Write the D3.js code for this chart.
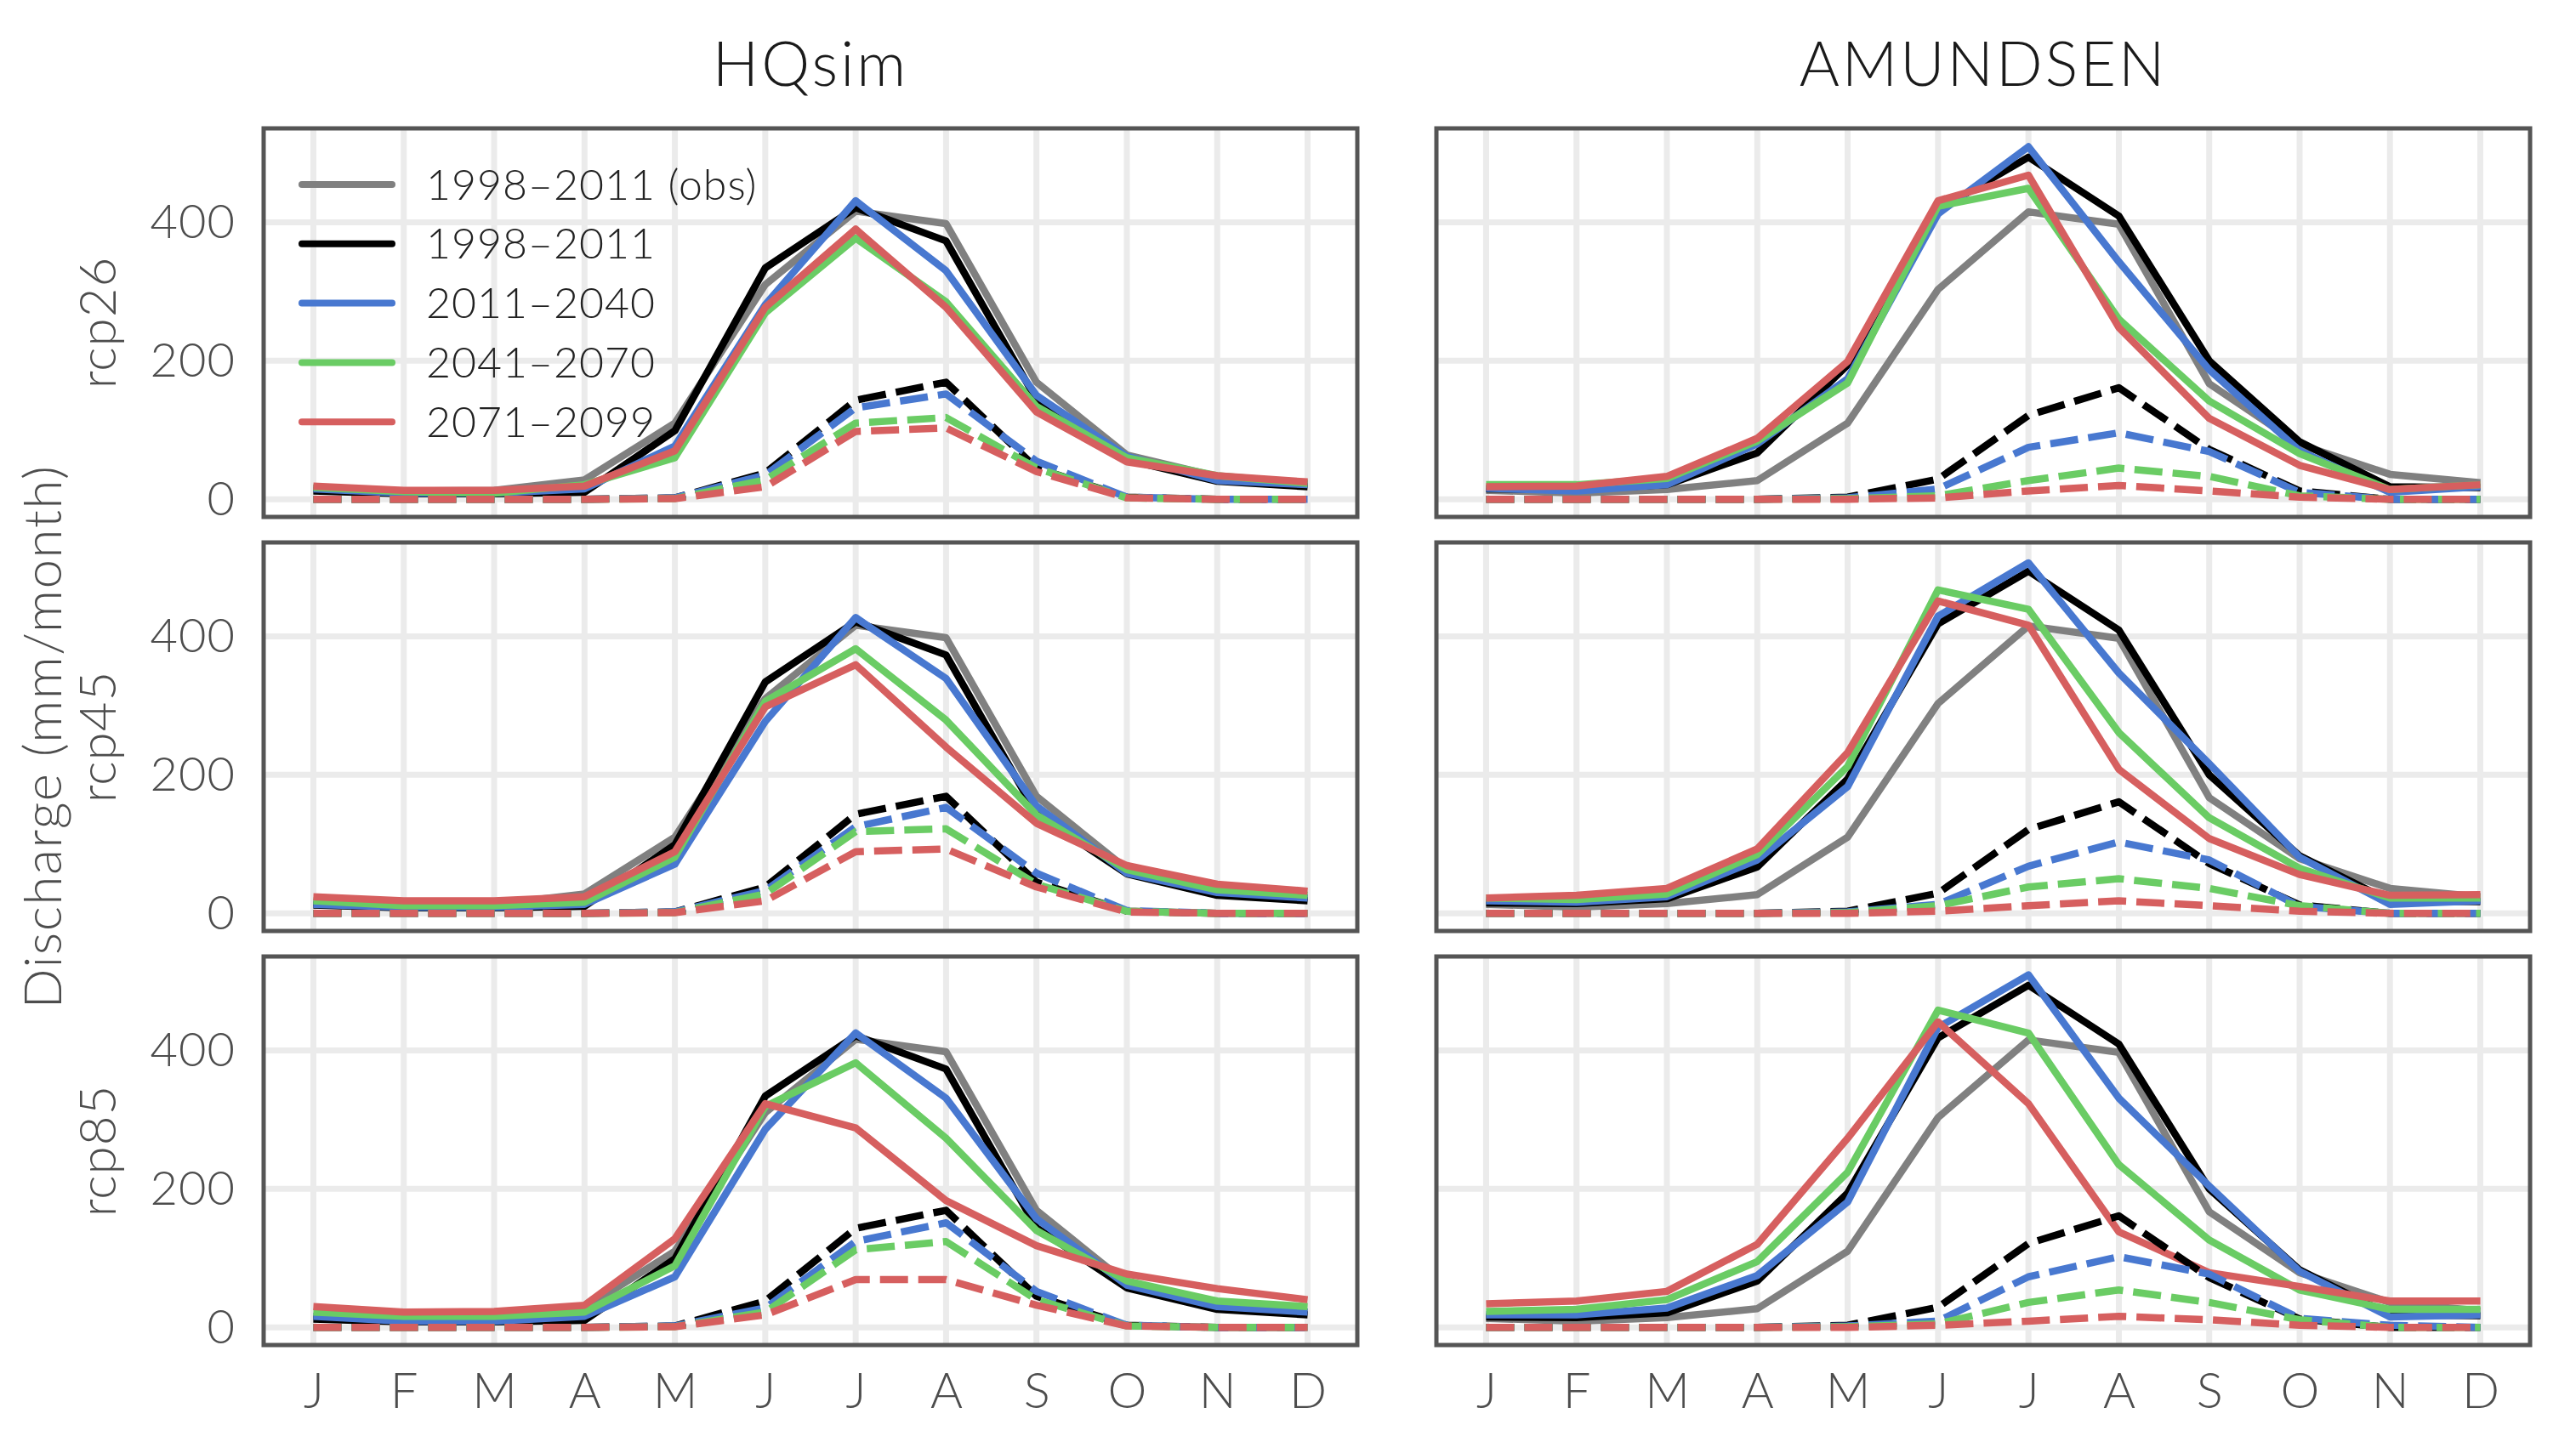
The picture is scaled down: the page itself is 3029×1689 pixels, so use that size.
<!DOCTYPE html>
<html>
<head>
<meta charset="utf-8">
<script src="https://cdn.jsdelivr.net/npm/d3@7"></script>
<style>
  body { margin: 0; background: #fff; }
  text { font-family: Lato, "Open Sans", sans-serif; font-weight: 300; }
</style>
</head>
<body>
<div class="chart"></div>
<script>
const W = 3029;
const H = 1689;

const months = ['J', 'F', 'M', 'A', 'M', 'J', 'J', 'A', 'S', 'O', 'N', 'D'];
const periods = ['1998–2011 (obs)', '1998–2011', '2011–2040', '2041–2070', '2071–2099'];
const periodColors = ['#808080', '#000000', '#4878d0', '#6acc64', '#d65f5f'];
const models = ['HQsim', 'AMUNDSEN'];
const scenarios = ['rcp26', 'rcp45', 'rcp85'];
const yTicks = [0, 200, 400];

// reference period (same in every scenario row)
const hqObs = [16, 12, 13, 28, 110, 310, 416, 398, 169, 64, 33, 22];
const hqRef = [12, 8, 8, 10, 99, 334, 421, 373, 144, 57, 26, 18];
const hqRefIce = [0, 0, 0, 0, 2, 38, 143, 169, 45, 3, 0, 0];
const amObs = [13, 9, 14, 27, 110, 303, 415, 397, 167, 79, 36, 24];
const amRef = [15, 14, 21, 67, 194, 418, 494, 409, 200, 83, 18, 17];
const amRefIce = [0, 0, 0, 0, 3, 29, 121, 161, 72, 12, 0, 0];

// HQsim future periods: 2011-2040, 2041-2070, 2071-2099
const hq26 = [
  [15, 9, 9, 15, 77, 281, 431, 330, 150, 62, 27, 21],
  [17, 11, 9, 21, 60, 269, 377, 285, 134, 60, 34, 23],
  [19, 13, 13, 19, 70, 277, 390, 277, 126, 54, 34, 25]
];
const hq26Ice = [
  [0, 0, 0, 0, 2, 35, 132, 152, 55, 3, 0, 0],
  [0, 0, 0, 0, 1, 28, 110, 118, 45, 2, 0, 0],
  [0, 0, 0, 0, 1, 18, 98, 103, 40, 2, 0, 0]
];
const hq45 = [
  [13, 9, 9, 13, 71, 277, 427, 339, 155, 58, 30, 22],
  [18, 11, 11, 16, 81, 306, 382, 279, 142, 63, 34, 26],
  [24, 18, 18, 24, 89, 298, 359, 240, 130, 69, 42, 32]
];
const hq45Ice = [
  [0, 0, 0, 0, 2, 33, 125, 153, 58, 4, 0, 0],
  [0, 0, 0, 0, 1, 28, 118, 122, 42, 3, 0, 0],
  [0, 0, 0, 0, 1, 18, 89, 93, 38, 2, 0, 0]
];
const hq85 = [
  [16, 9, 9, 16, 73, 286, 425, 331, 157, 61, 30, 22],
  [22, 16, 16, 22, 89, 319, 382, 273, 140, 67, 38, 30],
  [30, 22, 23, 32, 128, 323, 288, 183, 118, 77, 56, 40]
];
const hq85Ice = [
  [0, 0, 0, 0, 2, 28, 124, 151, 52, 3, 0, 0],
  [0, 0, 0, 0, 1, 22, 112, 124, 40, 2, 0, 0],
  [0, 0, 0, 0, 1, 18, 69, 69, 32, 2, 0, 0]
];

// AMUNDSEN future periods
const am26 = [
  [16, 12, 21, 80, 174, 412, 509, 343, 187, 70, 10, 18],
  [21, 21, 30, 84, 168, 423, 449, 260, 142, 66, 14, 21],
  [18, 19, 33, 88, 199, 431, 468, 248, 117, 49, 14, 21]
];
const am26Ice = [
  [0, 0, 0, 0, 2, 15, 75, 96, 69, 10, 0, 0],
  [0, 0, 0, 0, 1, 5, 27, 45, 33, 5, 0, 0],
  [0, 0, 0, 0, 0, 2, 12, 20, 12, 3, 0, 0]
];
const am45 = [
  [18, 16, 24, 77, 183, 429, 506, 347, 216, 81, 13, 18],
  [22, 20, 28, 85, 212, 467, 439, 261, 138, 65, 22, 22],
  [22, 26, 36, 93, 232, 451, 416, 208, 108, 56, 26, 27]
];
const am45Ice = [
  [0, 0, 0, 0, 2, 13, 68, 103, 77, 10, 0, 0],
  [0, 0, 0, 0, 1, 11, 38, 50, 36, 11, 0, 0],
  [0, 0, 0, 0, 0, 3, 11, 18, 11, 3, 0, 0]
];
const am85 = [
  [18, 18, 28, 75, 181, 433, 509, 331, 204, 81, 15, 18],
  [23, 26, 40, 95, 224, 458, 425, 235, 126, 54, 26, 26],
  [34, 38, 52, 120, 273, 441, 323, 138, 79, 59, 38, 38]
];
const am85Ice = [
  [0, 0, 0, 0, 2, 9, 73, 102, 77, 13, 3, 0],
  [0, 0, 0, 0, 1, 5, 36, 54, 36, 11, 0, 0],
  [0, 0, 0, 0, 0, 3, 9, 16, 11, 3, 0, 0]
];

// panel table: [row][col]
const panels = [
  [{ obs: hqObs, ref: hqRef, refIce: hqRefIce, fut: hq26, futIce: hq26Ice },
   { obs: amObs, ref: amRef, refIce: amRefIce, fut: am26, futIce: am26Ice }],
  [{ obs: hqObs, ref: hqRef, refIce: hqRefIce, fut: hq45, futIce: hq45Ice },
   { obs: amObs, ref: amRef, refIce: amRefIce, fut: am45, futIce: am45Ice }],
  [{ obs: hqObs, ref: hqRef, refIce: hqRefIce, fut: hq85, futIce: hq85Ice },
   { obs: amObs, ref: amRef, refIce: amRefIce, fut: am85, futIce: am85Ice }]
];

// layout
const panelW = 1286;
const panelH = 457;
const colX = [310, 1689];
const rowY = [151, 638, 1125];
const lineW = 8.5;

const svg = d3
  .select('.chart')
  .append('svg')
  .attr('width', W)
  .attr('height', H);

// scales (ggplot style 5% expansion)
const xScale = d3.scaleLinear().domain([-0.55, 11.55]).range([0, panelW]);
const yScale = d3.scaleLinear().domain([-25.5, 535.5]).range([panelH, 0]);

const line = d3
  .line()
  .x((d, i) => xScale(i))
  .y((d) => yScale(d));

// strip titles
models.forEach((m, c) => {
  svg
    .append('text')
    .attr('x', colX[c] + panelW / 2)
    .attr('y', 101)
    .attr('text-anchor', 'middle')
    .attr('font-size', 72)
    .attr('letter-spacing', 3)
    .attr('fill', '#1a1a1a')
    .text(m);
});

// y title
svg
  .append('text')
  .attr('transform', `translate(72, ${(rowY[0] + rowY[2] + panelH) / 2}) rotate(-90)`)
  .attr('text-anchor', 'middle')
  .attr('font-size', 62)
  .attr('letter-spacing', 1.5)
  .attr('fill', '#4d4d4d')
  .text('Discharge (mm/month)');

scenarios.forEach((s, r) => {
  // row label
  svg
    .append('text')
    .attr('transform', `translate(136, ${rowY[r] + panelH / 2}) rotate(-90)`)
    .attr('text-anchor', 'middle')
    .attr('font-size', 60)
    .attr('letter-spacing', 1)
    .attr('fill', '#4d4d4d')
    .text(s);

  models.forEach((m, c) => {
    const p = panels[r][c];
    const g = svg
      .append('g')
      .attr('transform', `translate(${colX[c]}, ${rowY[r]})`);

    // grid
    g.selectAll('.vgrid')
      .data(d3.range(12))
      .enter()
      .append('line')
      .attr('x1', (d) => xScale(d))
      .attr('x2', (d) => xScale(d))
      .attr('y1', 0)
      .attr('y2', panelH)
      .attr('stroke', '#ebebeb')
      .attr('stroke-width', 7);
    g.selectAll('.hgrid')
      .data(yTicks)
      .enter()
      .append('line')
      .attr('x1', 0)
      .attr('x2', panelW)
      .attr('y1', (d) => yScale(d))
      .attr('y2', (d) => yScale(d))
      .attr('stroke', '#ebebeb')
      .attr('stroke-width', 7);

    // solid lines: total discharge
    const solid = [p.obs, p.ref].concat(p.fut);
    g.selectAll('.solid')
      .data(solid)
      .enter()
      .append('path')
      .attr('d', (d) => line(d))
      .attr('fill', 'none')
      .attr('stroke', (d, i) => periodColors[i])
      .attr('stroke-width', lineW)
      .attr('stroke-linejoin', 'round');

    // dashed lines
    const dashed = [p.refIce].concat(p.futIce);
    g.selectAll('.dashed')
      .data(dashed)
      .enter()
      .append('path')
      .attr('d', (d) => line(d))
      .attr('fill', 'none')
      .attr('stroke', (d, i) => periodColors[i + 1])
      .attr('stroke-width', lineW)
      .attr('stroke-dasharray', '33,12')
      .attr('stroke-linejoin', 'round');

    // border
    g.append('rect')
      .attr('width', panelW)
      .attr('height', panelH)
      .attr('fill', 'none')
      .attr('stroke', '#555555')
      .attr('stroke-width', 5);

    // axes
    if (c === 0) {
      const yAxis = d3.axisLeft(yScale).tickValues(yTicks).tickSize(0).tickPadding(33);
      const ya = g.append('g').call(yAxis);
      ya.select('.domain').remove();
      ya.selectAll('text')
        .attr('font-size', 56)
        .attr('letter-spacing', 1)
        .attr('fill', '#4d4d4d')
        .style('font-family', 'Lato, sans-serif');
    }
    if (r === 2) {
      const xAxis = d3
        .axisBottom(xScale)
        .tickValues(d3.range(12))
        .tickFormat((i) => months[i])
        .tickSize(0)
        .tickPadding(33);
      const xa = g.append('g').attr('transform', `translate(0, ${panelH})`).call(xAxis);
      xa.select('.domain').remove();
      xa.selectAll('text')
        .attr('font-size', 58)
        .attr('fill', '#4d4d4d')
        .style('font-family', 'Lato, sans-serif');
    }

    // legend in first panel
    if (r === 0 && c === 0) {
      const lg = g.append('g');
      periods.forEach((label, k) => {
        const ly = 66 + k * 69.8;
        lg.append('line')
          .attr('x1', 45)
          .attr('x2', 151)
          .attr('y1', ly)
          .attr('y2', ly)
          .attr('stroke', periodColors[k])
          .attr('stroke-width', 8)
          .attr('stroke-linecap', 'round');
        lg.append('text')
          .attr('x', 191)
          .attr('y', ly)
          .attr('dy', '0.35em')
          .attr('font-size', 50)
          .attr('letter-spacing', 1)
          .attr('fill', '#222222')
          .text(label);
      });
    }
  });
});
</script>
</body>
</html>
